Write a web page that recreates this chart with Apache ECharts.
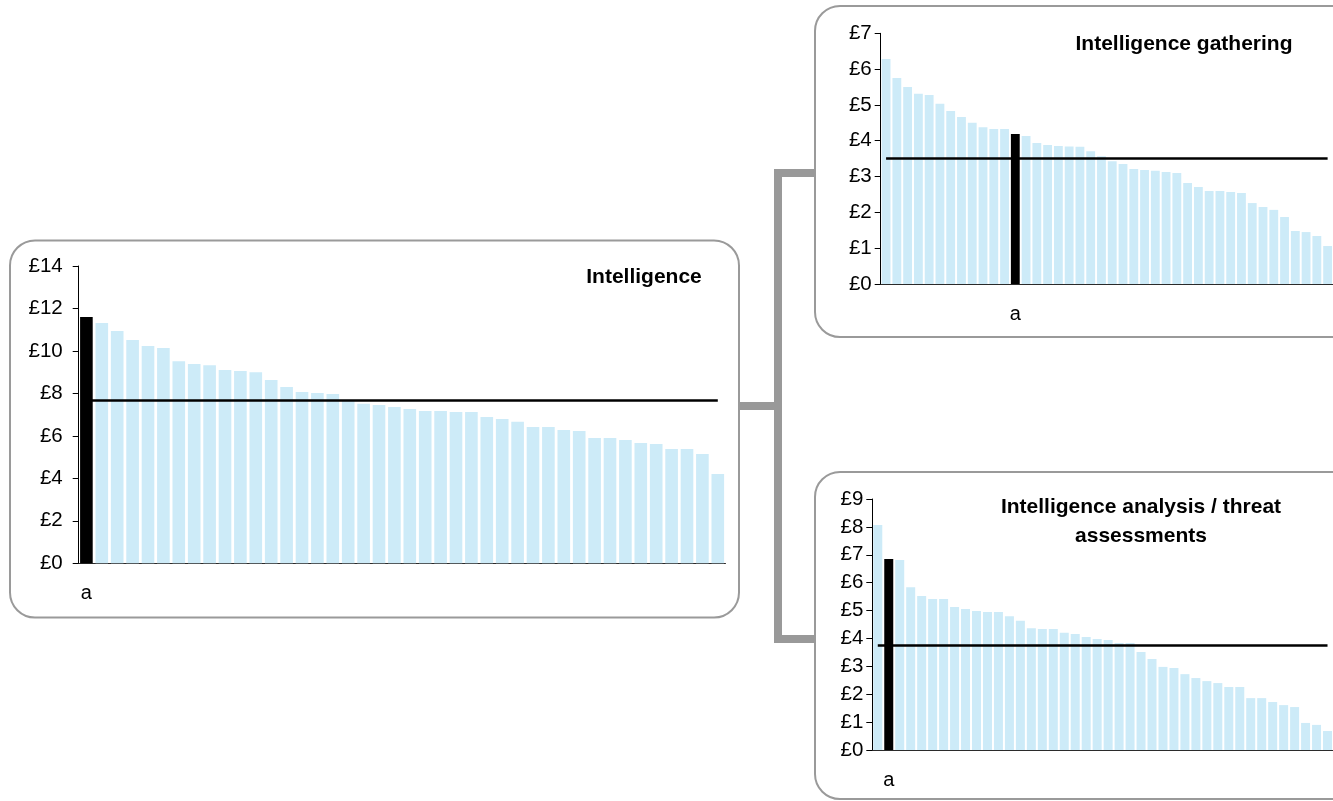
<!DOCTYPE html>
<html>
<head>
<meta charset="utf-8">
<script src="https://cdn.jsdelivr.net/npm/echarts@6/dist/echarts.min.js"></script>
<style>
html,body{margin:0;padding:0;background:#fff;overflow:hidden}
#chart{width:1333px;height:801px}
</style>
</head>
<body>
<div id="chart"></div>
<script>
// ---- Data ----
const intelCategories = ['a','','','','','','','','','','','','','','','','','','','','','','','','','','','','','','','','','','','','','','','','',''];
const intelValues = [11.60,11.31,10.94,10.51,10.23,10.14,9.52,9.38,9.33,9.10,9.05,9.00,8.63,8.30,8.07,8.02,7.97,7.65,7.51,7.46,7.36,7.27,7.17,7.17,7.12,7.12,6.89,6.80,6.66,6.42,6.42,6.28,6.23,5.90,5.90,5.81,5.67,5.62,5.38,5.38,5.15,4.20];
const intelAverage = 7.66;

const gatheringCategories = ['','','','','','','','','','','','','a','','','','','','','','','','','','','','','','','','','','','','','','','','','','',''];
const gatheringValues = [6.28,5.75,5.50,5.31,5.28,5.03,4.83,4.66,4.50,4.38,4.33,4.33,4.19,4.13,3.94,3.88,3.85,3.84,3.83,3.71,3.57,3.43,3.35,3.21,3.18,3.16,3.13,3.10,2.82,2.71,2.60,2.60,2.57,2.54,2.26,2.15,2.07,1.87,1.48,1.45,1.34,1.06];
const gatheringAverage = 3.50;

const analysisCategories = ['','a','','','','','','','','','','','','','','','','','','','','','','','','','','','','','','','','','','','','','','','',''];
const analysisValues = [8.07,6.85,6.81,5.84,5.52,5.41,5.41,5.13,5.06,4.98,4.95,4.95,4.80,4.63,4.37,4.34,4.34,4.20,4.16,4.05,3.98,3.94,3.84,3.84,3.51,3.26,2.98,2.94,2.72,2.58,2.47,2.40,2.26,2.26,1.86,1.86,1.72,1.61,1.54,0.97,0.90,0.68];
const analysisAverage = 3.76;

const panelTitles = ['Intelligence', 'Intelligence gathering', 'Intelligence analysis / threat', 'assessments'];
const yTickMax = [14, 7, 9];
const yTickStep = [2, 1, 1];
const currencyPrefix = '£';

// ---- Styling ----
const FONT = '"Liberation Sans", Arial, sans-serif';
const BAR_COLOR = '#cdebf8';
const HILITE_COLOR = '#000000';
const BOX_STROKE = '#9a9a9a';
const CONNECT = '#999999';

const panels = [
  {cats: intelCategories, vals: intelValues, avg: intelAverage,
   grid: {left: 78.7, top: 266, width: 646.8, height: 297.3}, yMargin: 16},
  {cats: gatheringCategories, vals: gatheringValues, avg: gatheringAverage,
   grid: {left: 880.7, top: 33.3, width: 453.6, height: 250.7}, yMargin: 9},
  {cats: analysisCategories, vals: analysisValues, avg: analysisAverage,
   grid: {left: 872.3, top: 499, width: 465, height: 251}, yMargin: 9}
];

const grids = [], xAxes = [], yAxes = [], series = [];
panels.forEach((p, i) => {
  grids.push(Object.assign({containLabel: false}, p.grid));
  xAxes.push({
    type: 'category', gridIndex: i, data: p.cats, boundaryGap: true,
    axisLine: {show: true, lineStyle: {color: '#2b2b2b', width: 1}},
    axisTick: {show: false},
    axisLabel: {interval: 0, color: '#000', fontFamily: FONT, fontSize: 20, margin: 20}
  });
  yAxes.push({
    type: 'value', gridIndex: i, min: 0, max: yTickMax[i], interval: yTickStep[i],
    axisLine: {show: true, lineStyle: {color: '#000', width: 1}},
    axisTick: {show: true, length: 6, lineStyle: {color: '#000'}},
    splitLine: {show: false},
    axisLabel: {color: '#000', fontFamily: FONT, fontSize: 20.5, margin: p.yMargin,
                formatter: v => currencyPrefix + v}
  });
  series.push({
    type: 'bar', xAxisIndex: i, yAxisIndex: i, barCategoryGap: '18%',
    data: p.vals.map((v, k) => p.cats[k] === 'a'
      ? {value: v, itemStyle: {color: HILITE_COLOR}} : v),
    itemStyle: {color: BAR_COLOR},
    markLine: {
      silent: true, symbol: 'none', label: {show: false}, z: 5,
      lineStyle: {color: '#000', width: 2.5, type: 'solid'},
      emphasis: {disabled: true},
      data: [[{coord: [0, p.avg]}, {coord: [p.cats.length - 1, p.avg]}]]
    }
  });
});

const titleStyle = {fill: '#000', fontFamily: FONT, fontSize: 21, fontWeight: 'bold',
                    textAlign: 'center', textVerticalAlign: 'middle'};

const graphic = [
  // panel frames
  {type: 'rect', z: -10, shape: {x: 10, y: 240.5, width: 729, height: 377, r: 25},
   style: {fill: '#fff', stroke: BOX_STROKE, lineWidth: 2}},
  {type: 'rect', z: -10, shape: {x: 815, y: 6, width: 620, height: 331, r: 25},
   style: {fill: '#fff', stroke: BOX_STROKE, lineWidth: 2}},
  {type: 'rect', z: -10, shape: {x: 815, y: 472, width: 620, height: 327, r: 25},
   style: {fill: '#fff', stroke: BOX_STROKE, lineWidth: 2}},
  // connectors
  {type: 'rect', z: -9, shape: {x: 740, y: 402, width: 40, height: 8}, style: {fill: CONNECT}},
  {type: 'rect', z: -9, shape: {x: 774, y: 169, width: 8, height: 474}, style: {fill: CONNECT}},
  {type: 'rect', z: -9, shape: {x: 774, y: 169, width: 41, height: 8}, style: {fill: CONNECT}},
  {type: 'rect', z: -9, shape: {x: 774, y: 635, width: 41, height: 8}, style: {fill: CONNECT}},
  // titles
  {type: 'text', z: 10, style: Object.assign({text: panelTitles[0], x: 644, y: 277}, titleStyle)},
  {type: 'text', z: 10, style: Object.assign({text: panelTitles[1], x: 1184, y: 44}, titleStyle)},
  {type: 'text', z: 10, style: Object.assign({text: panelTitles[2], x: 1141, y: 507}, titleStyle)},
  {type: 'text', z: 10, style: Object.assign({text: panelTitles[3], x: 1141, y: 536}, titleStyle)}
];

const chart = echarts.init(document.getElementById('chart'), null, {renderer: 'canvas'});
chart.setOption({
  animation: false,
  backgroundColor: '#ffffff',
  grid: grids, xAxis: xAxes, yAxis: yAxes, series: series, graphic: graphic
});
</script>
</body>
</html>
